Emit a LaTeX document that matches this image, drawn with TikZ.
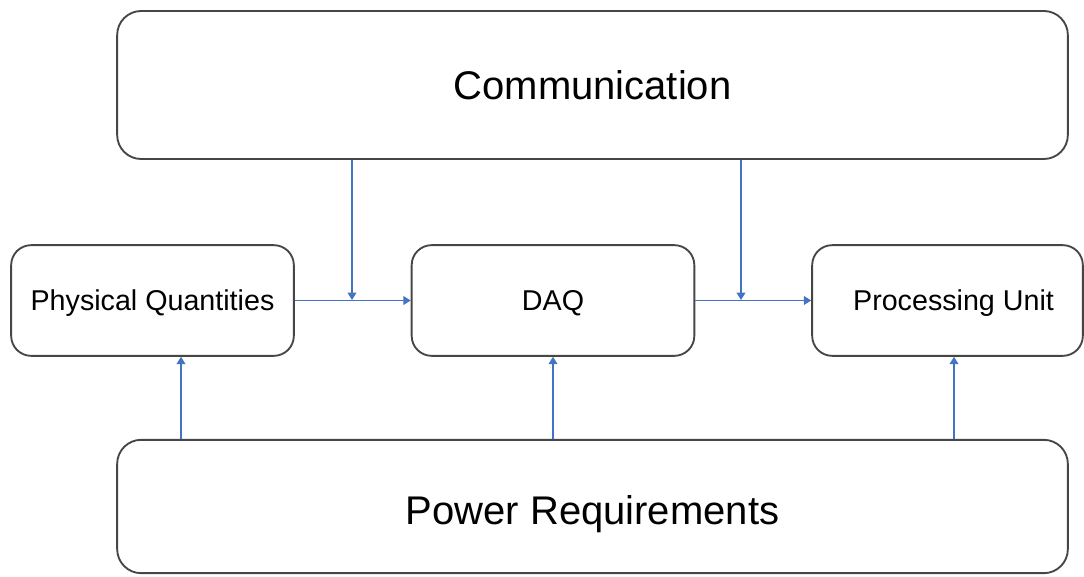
\documentclass[tikz,border=0pt]{standalone}
\usepackage{fontspec}
\setmainfont{Liberation Sans}
\usetikzlibrary{arrows.meta}

\tikzset{every picture/.style={line width=0.75pt}}

\begin{document}
\begin{tikzpicture}[x=0.75pt,y=0.75pt,yscale=-1,xscale=1,
  box/.style={draw={rgb, 255:red, 70; green, 70; blue, 70 }, line width=1.4pt, rounded corners=15pt, inner sep=0pt, minimum width=212pt, minimum height=83pt, text height=15.3pt, text depth=0pt, font=\fontsize{21.5}{26}\selectfont},
  bigbox/.style={box, rounded corners=18pt, minimum width=713pt, font=\fontsize{30}{36}\selectfont},
  flow/.style={draw={rgb, 255:red, 68; green, 114; blue, 196 }, line width=1.1pt, -{Triangle[length=5.5pt,width=6.5pt]}}]
%set diagram size
\useasboundingbox (0,0) rectangle (1084,577);

%Shape: Rounded Rect [id:comm] 
\node [bigbox, minimum height=111pt, text height=22pt] (comm) at (592.5,85) {Communication};
%Shape: Rounded Rect [id:power] 
\node [bigbox, minimum height=100pt, text height=27.7pt] (power) at (592.5,506.5) {Power Requirements};
%Shape: Rounded Rect [id:phys] 
\node [box] (phys) at (152.5,300.5) {Physical Quantities};
%Shape: Rounded Rect [id:daq] 
\node [box] (daq) at (553,300.5) {DAQ};
%Shape: Rounded Rect [id:proc] 
\node [box, minimum width=203pt] (proc) at (947.5,300.5) {\hspace*{9pt}Processing Unit};

%Junctions on the horizontal links
\coordinate (j1) at (352,300);
\coordinate (j2) at (741,300);

%Straight Lines [id:links] 
\draw [flow] (phys.east) -- (daq.west) ;
\draw [flow] (daq.east) -- (proc.west) ;
\draw [flow] (comm.south -| j1) -- (j1) ;
\draw [flow] (comm.south -| j2) -- (j2) ;
%Straight Lines [id:power] 
\draw [flow] (power.north -| 181,0) -- (phys.south -| 181,0) ;
\draw [flow] (power.north -| daq) -- (daq.south) ;
\draw [flow] (power.north -| 954,0) -- (proc.south -| 954,0) ;

\end{tikzpicture}
\end{document}
